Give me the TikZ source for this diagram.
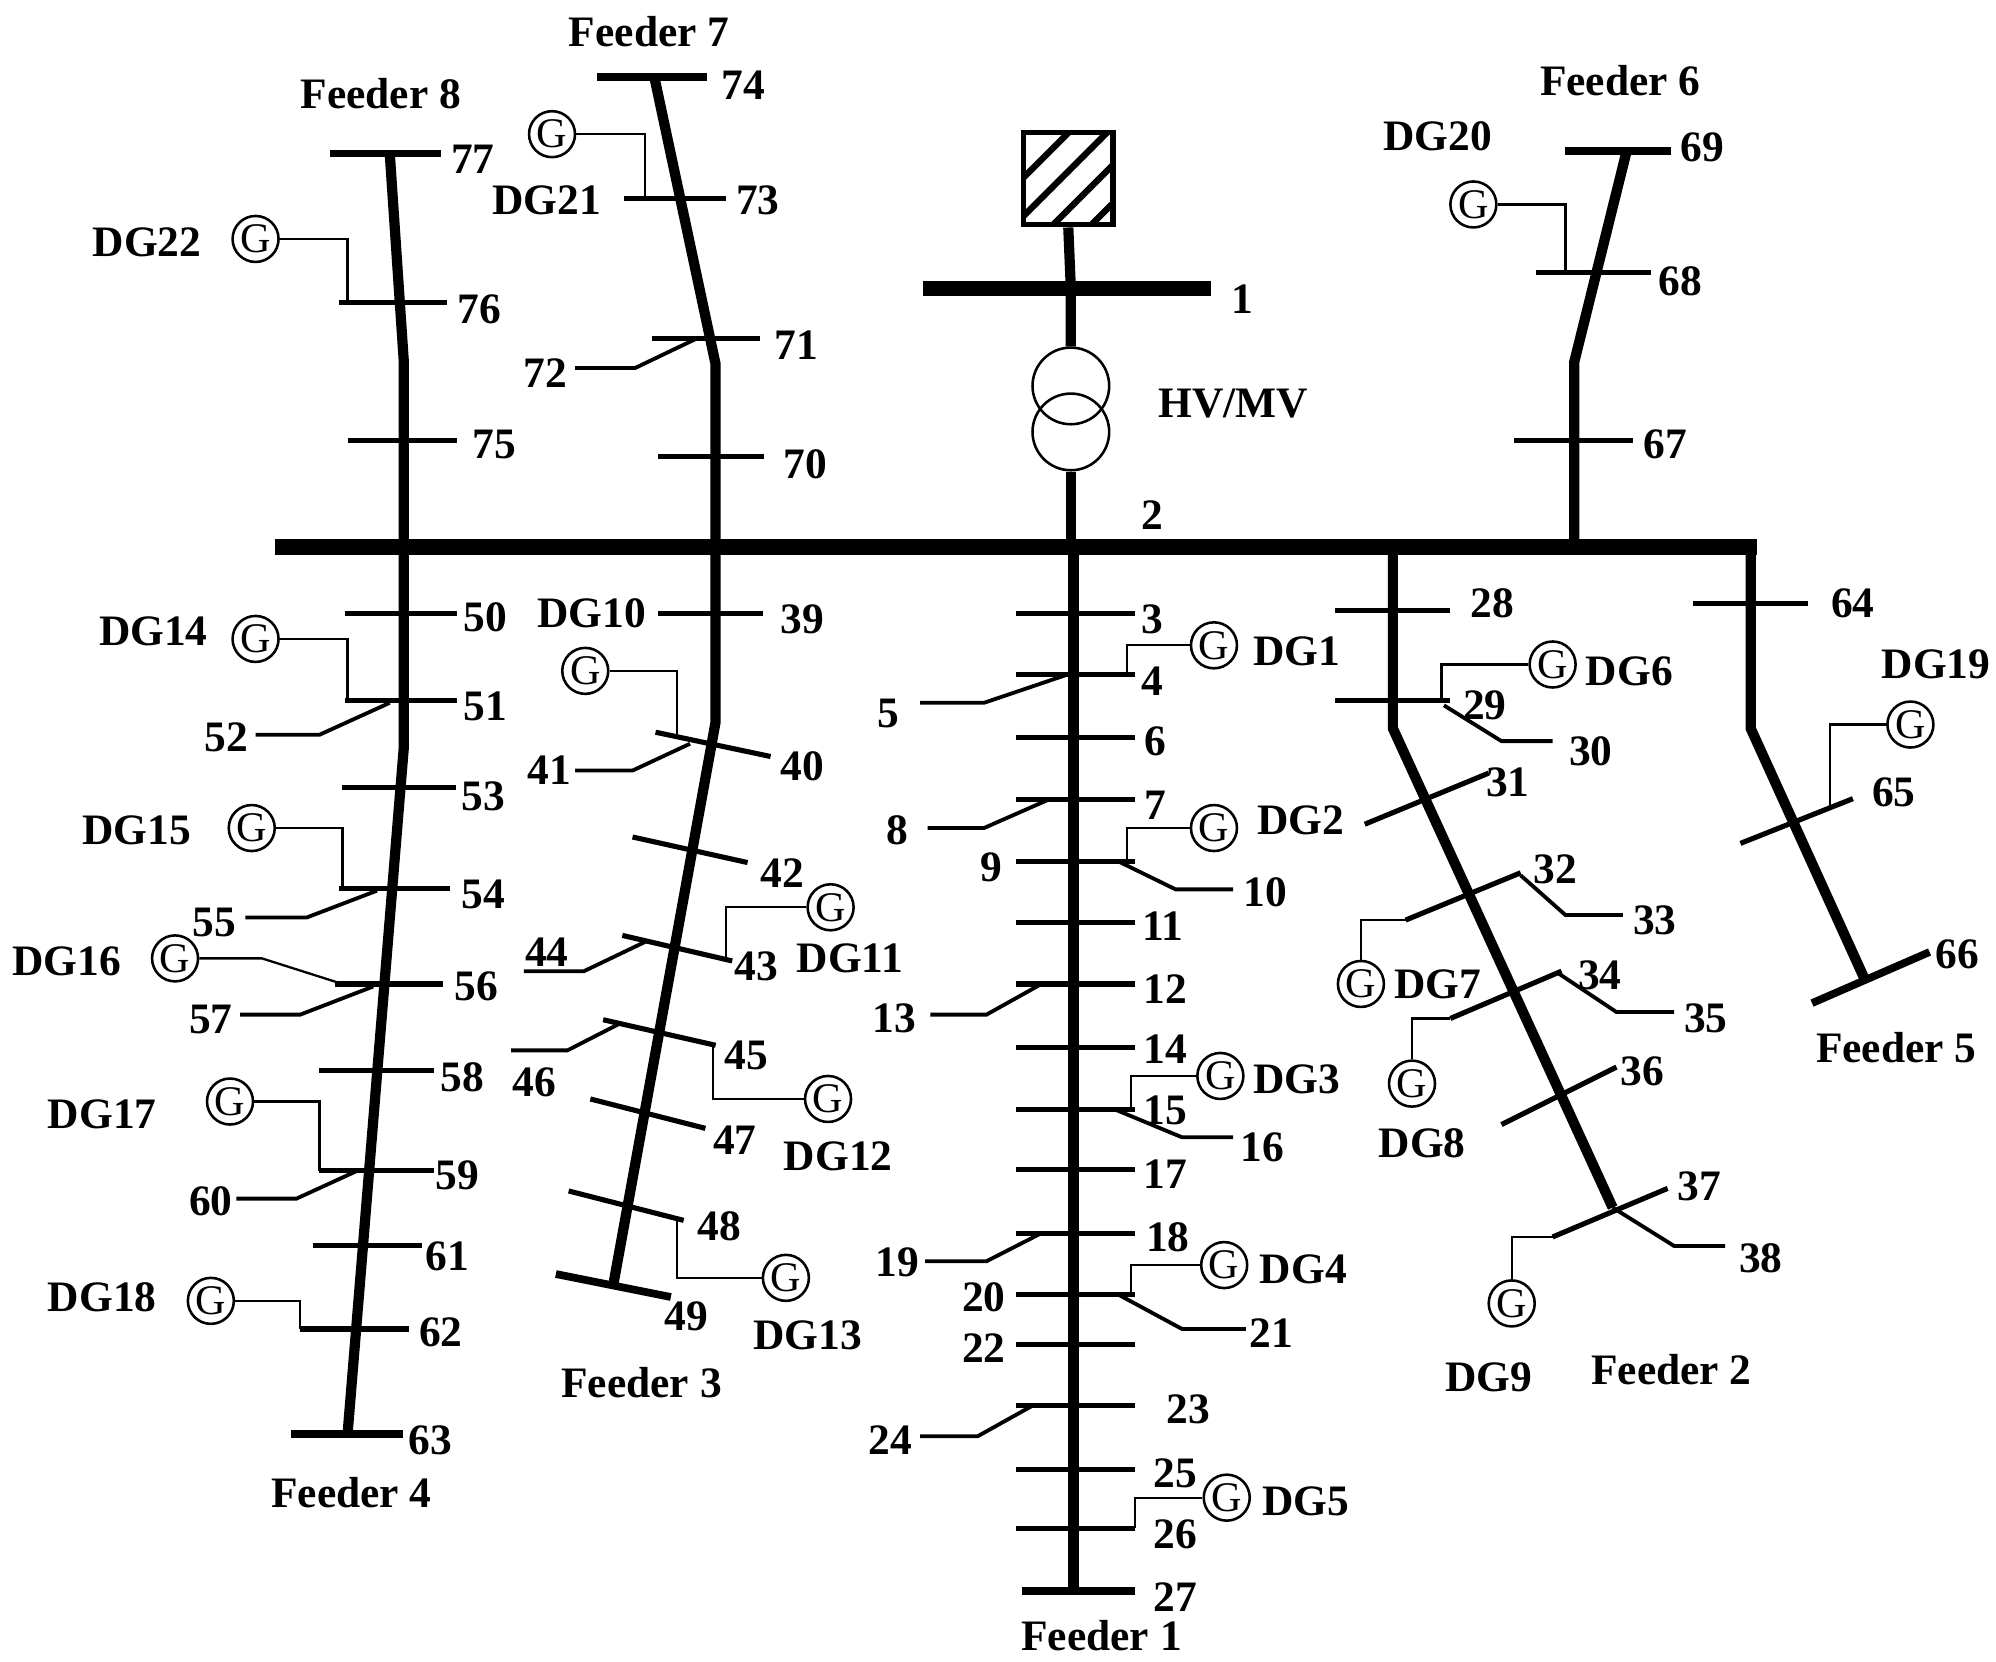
\documentclass[tikz,border=0pt]{standalone}
\usepackage{fontspec}
\setmainfont{Liberation Serif}
\begin{document}
\begin{tikzpicture}[x=1pt,y=-1pt,
 feeder/.style={line width=8pt},
 bus/.style={line width=12pt},
 bar/.style={line width=4pt},
 br/.style={line width=3pt},
 gl/.style={line width=1.8pt},
 lbl/.style={font=\bfseries\fontsize{34}{36}\selectfont,inner sep=0pt},
 gen/.style={circle,draw,line width=2pt,minimum size=36pt,inner sep=0pt,font=\fontsize{33}{34}\selectfont}]
\useasboundingbox (0,0) rectangle (1562,1300);
% source and transformer
\node[draw,line width=4pt,minimum width=70pt,minimum height=72pt,inner sep=0pt] (src) at (836,140) {};
\begin{scope}
\clip (801,104) rectangle (871,176);
\foreach \d in {-40,-10,20,50,80} \draw[line width=5pt] (800+\d,180) -- (880+\d,100);
\end{scope}
\coordinate (b1l) at (722,226); \coordinate (b1r) at (948,226);
\draw[bus] (b1l) -- (b1r);
\node[circle,draw,line width=2pt,minimum size=60pt] (t1) at (838,302) {};
\node[circle,draw,line width=2pt,minimum size=60pt] (t2) at (838,338) {};
\draw[feeder] (src.south) -- (838,226) -- (t1.north);
\draw[feeder] (t2.south) -- (838,428);
\node[lbl] (l1) at (972,234) {1};
\node[lbl] (lhv) at (965,316) {HV/MV};
% main bus
\draw[bus] (215,428) -- (1375,428);
\node[lbl] (l2) at (902,403) {2};
% ===== Feeder 1
\draw[feeder] (840,428) -- (840,1245);
\foreach \y in {480,528,577,626,674,722,770,820,868,915,965,1013,1052,1100,1150,1196} \draw[bar] (795,\y) -- (888,\y);
\draw[line width=6pt] (800,1245) -- (888,1245);
\foreach \t/\x/\y in {3/902/485,4/902/533,6/904/580,7/904/630,9/776/679,11/910/725,12/912/774,14/912/821,15/912/869,17/912/919,18/914/968,20/770/1015,22/770/1055,23/930/1103,25/920/1153,26/920/1201,27/920/1250,5/695/558,8/702/650,10/990/698,13/700/797,16/988/898,19/702/988,21/995/1043,24/697/1127}
  \node[lbl] (n\t) at (\x,\y) {\t};
\node[lbl] (f1) at (862,1280) {Feeder 1};
\draw[br] (835,528) -- (770,550) -- (720,550);
\draw[br] (820,626) -- (770,648) -- (726,648);
\draw[br] (875,674) -- (920,696) -- (965,696);
\draw[br] (815,770) -- (772,794) -- (728,794);
\draw[br] (872,868) -- (925,890) -- (965,890);
\draw[br] (815,965) -- (772,987) -- (724,987);
\draw[br] (875,1013) -- (925,1040) -- (975,1040);
\draw[br] (808,1100) -- (765,1124) -- (720,1124);
\node[gen] (g1) at (950,505) {G}; \draw[gl] (882,528) |- (g1.west); \node[lbl] (d1) at (1015,510) {DG1};
\node[gen] (g2) at (950,648) {G}; \draw[gl] (882,674) |- (g2.west); \node[lbl] (d2) at (1018,642) {DG2};
\node[gen] (g3) at (955,842) {G}; \draw[gl] (885,868) |- (g3.west); \node[lbl] (d3) at (1015,845) {DG3};
\node[gen] (g4) at (958,990) {G}; \draw[gl] (885,1013) |- (g4.west); \node[lbl] (d4) at (1020,993) {DG4};
\node[gen] (g5) at (960,1172) {G}; \draw[gl] (888,1196) |- (g5.west); \node[lbl] (d5) at (1022,1175) {DG5};
% ===== Feeder 2
\draw[feeder] (1090,428) -- (1090,570) -- (1262,945);
\draw[bar] (1045,478) -- (1135,478); \draw[bar] (1045,548) -- (1135,548);
\draw[bar] (1068,645) -- (1165,605); \draw[bar] (1100,720) -- (1190,683);
\draw[bar] (1135,797) -- (1222,760); \draw[bar] (1175,880) -- (1265,835);
\draw[bar] (1215,968) -- (1305,930);
\draw[br] (1130,552) -- (1175,580) -- (1215,580);
\draw[br] (1190,685) -- (1225,716) -- (1270,716);
\draw[br] (1220,762) -- (1265,792) -- (1310,792);
\draw[br] (1262,945) -- (1310,975) -- (1350,975);
\node[gen] (g6) at (1215,520) {G}; \draw[gl] (1128,548) |- (g6.west); \node[lbl] (d6) at (1275,525) {DG6};
\node[gen] (g7) at (1065,770) {G}; \draw[gl] (1100,720) -- (1065,720) -- (g7.north); \node[lbl] (d7) at (1125,770) {DG7};
\node[gen] (g8) at (1105,848) {G}; \draw[gl] (1135,797) -- (1105,797) -- (g8.north); \node[lbl] (d8) at (1113,895) {DG8};
\node[gen] (g9) at (1183,1020) {G}; \draw[gl] (1215,968) -- (1183,968) -- (g9.north); \node[lbl] (d9) at (1165,1078) {DG9};
\foreach \t/\x/\y in {28/1168/472,29/1162/552,30/1245/588,31/1180/612,32/1217/680,33/1295/720,34/1252/763,35/1335/797,36/1285/838,37/1330/928,38/1378/985}
  \node[lbl] (n\t) at (\x,\y) {\t};
\node[lbl] (f2) at (1308,1072) {Feeder 2};
% ===== Feeder 5
\draw[feeder] (1370,428) -- (1370,570) -- (1460,768);
\draw[bar] (1325,472) -- (1415,472); \draw[bar] (1362,660) -- (1450,625);
\draw[line width=6pt] (1418,785) -- (1510,745);
\node[gen] (g19) at (1495,567) {G}; \draw[gl] (1432,632) |- (g19.west); \node[lbl] (d19) at (1515,520) {DG19};
\foreach \t/\x/\y in {64/1450/472,65/1482/620,66/1532/747} \node[lbl] (n\t) at (\x,\y) {\t};
\node[lbl] (f5) at (1484,820) {Feeder 5};
% ===== Feeder 6
\draw[feeder] (1232,428) -- (1232,283) -- (1273,118);
\draw[bar] (1185,345) -- (1278,345); \draw[bar] (1202,213) -- (1292,213);
\draw[line width=6pt] (1225,118) -- (1308,118);
\node[gen] (g20) at (1153,160) {G}; \draw[gl] (1225,213) |- (g20.east); \node[lbl] (d20) at (1125,107) {DG20};
\foreach \t/\x/\y in {67/1303/348,68/1315/220,69/1332/115} \node[lbl] (n\t) at (\x,\y) {\t};
\node[lbl] (f6) at (1268,63) {Feeder 6};
% ===== Feeder 7 / 3
\draw[feeder] (512,60) -- (560,285) -- (560,565) -- (480,1005);
\draw[bar] (515,357) -- (598,357); \draw[bar] (510,265) -- (595,265);
\draw[bar] (488,155) -- (568,155); \draw[line width=6pt] (467,60) -- (553,60);
\draw[br] (545,265) -- (497,288) -- (450,288);
\node[gen] (g21) at (432,105) {G}; \draw[gl] (505,155) |- (g21.east); \node[lbl] (d21) at (428,157) {DG21};
\draw[bar] (515,480) -- (597,480); \node[lbl] (d10) at (463,480) {DG10};
\draw[bar] (513,573) -- (603,592);
\draw[br] (540,582) -- (495,603) -- (450,603);
\node[gen] (g10) at (458,525) {G}; \draw[gl] (g10.east) -| (530,578);
\draw[bar] (495,655) -- (585,675); \draw[bar] (487,732) -- (573,752);
\draw[br] (505,737) -- (457,760) -- (410,760);
\node[gen] (g11) at (650,710) {G}; \draw[gl] (568,750) |- (g11.west); \node[lbl] (d11) at (665,750) {DG11};
\draw[bar] (472,798) -- (560,818);
\draw[br] (485,801) -- (444,822) -- (400,822);
\node[gen] (g12) at (648,860) {G}; \draw[gl] (558,818) |- (g12.west); \node[lbl] (d12) at (656,905) {DG12};
\draw[bar] (462,860) -- (552,883); \draw[bar] (445,932) -- (535,955);
\node[gen] (g13) at (615,1000) {G}; \draw[gl] (530,953) |- (g13.west); \node[lbl] (d13) at (632,1045) {DG13};
\draw[line width=6pt] (435,997) -- (525,1015);
\foreach \t/\x/\y in {70/630/363,71/623/270,72/427/292,73/593/157,74/582/67,39/628/485,40/628/600,41/430/603,42/612/683,43/592/756,44/428/745,45/584/826,46/418/847,47/575/892,48/563/960,49/537/1030}
  \node[lbl] (n\t) at (\x,\y) {\t};
\node[lbl] (f7) at (508,25) {Feeder 7};
\node[lbl] (f3) at (502,1082) {Feeder 3};
% ===== Feeder 8 / 4
\draw[feeder] (305,120) -- (316,283) -- (316,585) -- (272,1122);
\draw[bar] (272,345) -- (358,345); \draw[bar] (265,237) -- (350,237);
\draw[line width=6pt] (258,120) -- (345,120);
\node[gen] (g22) at (200,187) {G}; \draw[gl] (272,237) |- (g22.east); \node[lbl] (d22) at (115,190) {DG22};
\draw[bar] (270,480) -- (358,480); \draw[bar] (270,548) -- (358,548);
\draw[bar] (268,616) -- (357,616); \draw[bar] (265,695) -- (352,695);
\draw[bar] (262,770) -- (347,770); \draw[bar] (250,838) -- (340,838);
\draw[bar] (250,916) -- (340,916); \draw[bar] (245,975) -- (330,975);
\draw[bar] (235,1040) -- (320,1040); \draw[line width=6pt] (228,1122) -- (315,1122);
\draw[br] (305,550) -- (250,575) -- (200,575);
\draw[br] (295,697) -- (240,718) -- (192,718);
\draw[br] (292,772) -- (235,794) -- (188,794);
\draw[br] (280,916) -- (232,938) -- (185,938);
\node[gen] (g14) at (200,500) {G}; \draw[gl] (272,548) |- (g14.east); \node[lbl] (d14) at (120,494) {DG14};
\node[gen] (g15) at (197,648) {G}; \draw[gl] (268,695) |- (g15.east); \node[lbl] (d15) at (107,650) {DG15};
\node[gen] (g16) at (137,750) {G}; \draw[gl] (g16.east) -- (205,750) -- (268,770); \node[lbl] (d16) at (52,752) {DG16};
\node[gen] (g17) at (180,862) {G}; \draw[gl] (g17.east) -| (250,916); \node[lbl] (d17) at (80,872) {DG17};
\node[gen] (g18) at (165,1018) {G}; \draw[gl] (g18.east) -| (235,1040); \node[lbl] (d18) at (80,1015) {DG18};
\foreach \t/\x/\y in {75/387/348,76/375/242,77/370/125,50/380/483,51/380/553,52/177/577,53/378/623,54/378/700,55/168/722,56/373/772,57/165/798,58/362/843,59/358/920,60/165/940,61/350/983,62/345/1043,63/337/1127}
  \node[lbl] (n\t) at (\x,\y) {\t};
\node[lbl] (f8) at (298,73) {Feeder 8};
\node[lbl] (f4) at (275,1168) {Feeder 4};
\end{tikzpicture}
\end{document}
